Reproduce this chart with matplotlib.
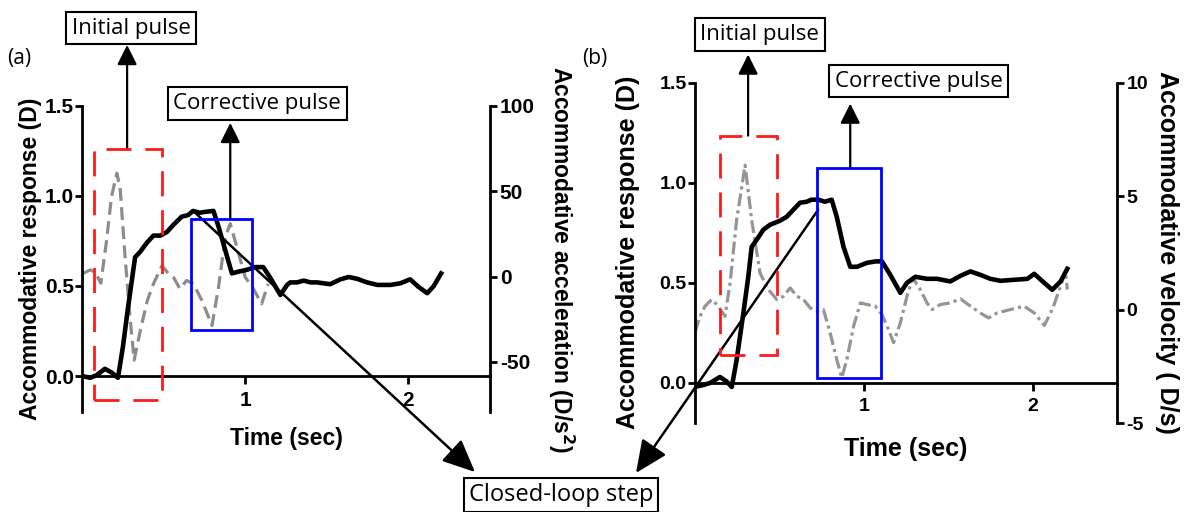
import matplotlib.pyplot as plt
from matplotlib.patches import Rectangle
from matplotlib.ticker import FormatStrFormatter

# ---- panel (a): accommodative response (D) and acceleration (D/s^2) ----
a_resp_t = [0.00, 0.05, 0.09, 0.14, 0.18, 0.22, 0.25, 0.28, 0.325, 0.356, 0.397, 0.437,
            0.48, 0.52, 0.56, 0.61, 0.65, 0.68, 0.72, 0.765, 0.805, 0.836, 0.877, 0.918,
            0.96, 1.01, 1.06, 1.11, 1.15, 1.215, 1.256, 1.276, 1.317, 1.358, 1.40, 1.44,
            1.52, 1.583, 1.634, 1.685, 1.746, 1.81, 1.89, 1.95, 2.01, 2.06, 2.115, 2.155, 2.20]
a_resp_d = [0.00, -0.01, 0.005, 0.04, 0.02, -0.01, 0.16, 0.37, 0.66, 0.69, 0.74, 0.78,
            0.78, 0.80, 0.84, 0.885, 0.894, 0.917, 0.907, 0.913, 0.917, 0.83, 0.70, 0.57,
            0.58, 0.59, 0.605, 0.605, 0.55, 0.45, 0.506, 0.52, 0.52, 0.53, 0.52, 0.52,
            0.51, 0.537, 0.55, 0.54, 0.52, 0.506, 0.506, 0.515, 0.537, 0.496, 0.46, 0.50, 0.57]
a_acc_t = [0.00, 0.05, 0.08, 0.115, 0.15, 0.18, 0.213, 0.233, 0.264, 0.294, 0.319, 0.356,
           0.40, 0.437, 0.49, 0.53, 0.56, 0.60, 0.64, 0.683, 0.734, 0.796, 0.836, 0.877,
           0.908, 0.949, 1.00, 1.05, 1.10, 1.14]
a_acc_v = [1.6, 3.9, 2.5, -3.9, 21, 46.5, 60.6, 52, 11, -24, -49, -32,
           -14, -4.3, 6.4, 1.6, -0.4, -7.2, -2.3, -4.3, -14, -28.7, -6.3, 23,
           31, 17, -0.4, -7.2, -16, -4.3]

# ---- panel (b): accommodative response (D) and velocity (D/s) ----
b_resp_t = [0.00, 0.05, 0.09, 0.148, 0.188, 0.218, 0.247, 0.287, 0.316, 0.336, 0.366, 0.405,
            0.445, 0.504, 0.544, 0.583, 0.623, 0.663, 0.69, 0.73, 0.77, 0.81, 0.84, 0.88,
            0.92, 0.96, 1.02, 1.07, 1.108, 1.157, 1.217, 1.256, 1.306, 1.375, 1.434, 1.513,
            1.573, 1.632, 1.69, 1.75, 1.81, 1.89, 1.97, 2.01, 2.06, 2.117, 2.166, 2.206]
b_resp_d = [-0.02, -0.01, 0.0, 0.03, 0.007, -0.02, 0.115, 0.35, 0.53, 0.68, 0.715, 0.765,
            0.79, 0.81, 0.83, 0.865, 0.90, 0.905, 0.915, 0.915, 0.905, 0.915, 0.83, 0.68,
            0.58, 0.58, 0.60, 0.607, 0.607, 0.54, 0.45, 0.50, 0.53, 0.52, 0.52, 0.507,
            0.535, 0.557, 0.54, 0.52, 0.51, 0.515, 0.52, 0.545, 0.507, 0.465, 0.507, 0.57]
b_vel_t = [0.00, 0.03, 0.06, 0.10, 0.138, 0.178, 0.208, 0.247, 0.297, 0.336, 0.386, 0.435,
           0.485, 0.524, 0.564, 0.604, 0.643, 0.683, 0.722, 0.761, 0.80, 0.84, 0.87, 0.90,
           0.94, 0.98, 1.02, 1.068, 1.108, 1.138, 1.177, 1.217, 1.256, 1.29, 1.335, 1.375,
           1.405, 1.454, 1.513, 1.573, 1.632, 1.69, 1.74, 1.79, 1.87, 1.95, 2.01, 2.07,
           2.117, 2.166, 2.196, 2.206]
b_vel_v = [-1.0, -0.3, 0.15, 0.44, 0.15, -0.3, 1.17, 3.95, 6.36, 3.95, 1.6, 0.88,
           0.44, 0.58, 0.95, 0.58, 0.44, 0.07, -0.07, 0.0, -1.0, -2.2, -3.0, -2.2,
           -0.73, 0.29, 0.22, 0.15, -0.22, -0.73, -1.46, -0.58, 0.58, 1.4, 0.88, 0.29,
           0.0, 0.22, 0.29, 0.47, 0.15, -0.15, -0.37, -0.15, 0.0, 0.15, -0.15, -0.7,
           0.0, 1.02, 1.68, 0.88]

plt.rcParams['font.family'] = ['Liberation Sans', 'DejaVu Sans']
plt.rcParams['font.weight'] = 'bold'
plt.rcParams['axes.labelweight'] = 'bold'
plt.rcParams['axes.unicode_minus'] = False

BOX_FONT = ['Open Sans', 'DejaVu Sans']
GRAY = '#8c8c8c'


def make_panel(rect, right_lim, right_ticks, right_label, tick_size, label_size, pads):
    ax = fig.add_axes(rect)
    ax2 = ax.twinx()
    ax.set_zorder(2)
    ax2.set_zorder(1)
    ax.patch.set_visible(False)

    ax.set_xlim(0, 2.5)
    ax.set_ylim(-0.2, 1.5)
    ax2.set_ylim(*right_lim)

    for s in ['top', 'right']:
        ax.spines[s].set_visible(False)
    for s in ['top', 'left', 'bottom']:
        ax2.spines[s].set_visible(False)
    ax.spines['bottom'].set_position(('data', 0))
    for sp in [ax.spines['left'], ax.spines['bottom'], ax2.spines['right']]:
        sp.set_linewidth(2)

    ax.set_xticks([1, 2])
    ax.set_yticks([0.0, 0.5, 1.0, 1.5])
    ax.yaxis.set_major_formatter(FormatStrFormatter('%.1f'))
    ax2.set_yticks(right_ticks)
    ax.tick_params(axis='y', length=5, width=2, pad=1, labelsize=tick_size)
    ax.tick_params(axis='x', length=6, width=2, pad=5, labelsize=tick_size)
    ax2.tick_params(axis='y', length=5, width=2, pad=2, labelsize=tick_size)

    ax.set_xlabel('Time (sec)', fontsize=label_size, labelpad=pads[0])
    ax.set_ylabel('Accommodative response (D)', fontsize=label_size, labelpad=pads[1])
    ax2.set_ylabel(right_label, fontsize=label_size, rotation=270, va='bottom',
                   labelpad=pads[2])
    return ax, ax2


def pulse_box(ax, rect_x, rect_y, color, ls, arrow_x, arrow_top, text, text_xy):
    ax.add_patch(Rectangle((rect_x[0], rect_y[0]), rect_x[1] - rect_x[0],
                           rect_y[1] - rect_y[0], fill=False, ec=color, lw=2,
                           ls=ls, clip_on=False, zorder=5))
    ax.annotate('', xy=(arrow_x, arrow_top), xytext=(arrow_x, rect_y[1]),
                arrowprops=dict(arrowstyle='-|>,head_length=1.2,head_width=0.6',
                                mutation_scale=10, lw=1.6, color='black',
                                shrinkA=0, shrinkB=0),
                annotation_clip=False)
    ax.text(text_xy[0], text_xy[1], text, ha='center', va='center', fontsize=16,
            family=BOX_FONT, weight='normal', clip_on=False,
            bbox=dict(boxstyle='square,pad=0.25', fc='white', ec='black', lw=1.5))


fig = plt.figure(figsize=(11.91, 5.12), dpi=100)

# ---- (a) ----
ax_a, ax_a2 = make_panel([0.0689, 0.1953, 0.3426, 0.5977], (-79.4, 100), [-50, 0, 50, 100],
                         'Accommodative acceleration (D/s$^2$)', 15, 16.5, (12, 2, 8))
ax_a2.plot(a_acc_t, a_acc_v, color=GRAY, lw=2.3, ls=(0, (4, 2)))
ax_a.plot(a_resp_t, a_resp_d, color='black', lw=3.3)
pulse_box(ax_a, (0.074, 0.49), (-0.133, 1.261), '#ff1a1a', (0, (9, 5)),
          0.276, 1.839, 'Initial pulse', (0.30, 1.933))
pulse_box(ax_a, (0.669, 1.043), (0.256, 0.872), '#0000ff', '-',
          0.908, 1.406, 'Corrective pulse', (1.074, 1.514))

# ---- (b) ----
ax_b, ax_b2 = make_panel([0.5835, 0.1738, 0.3543, 0.6650], (-5, 10), [-5, 0, 5, 10],
                         'Accommodative velocity ( D/s)', 14, 18, (16, 14, 5))
ax_b2.plot(b_vel_t, b_vel_v, color='#959595', lw=2.3, ls=(0, (4, 1.3, 1, 1.3)))
ax_b.plot(b_resp_t, b_resp_d, color='black', lw=3.3)
pulse_box(ax_b, (0.148, 0.487), (0.14, 1.235), '#ff1a1a', (0, (9, 5)),
          0.315, 1.64, 'Initial pulse', (0.383, 1.74))
pulse_box(ax_b, (0.724, 1.104), (0.025, 1.075), '#0000ff', '-',
          0.92, 1.395, 'Corrective pulse', (1.326, 1.5075))

# ---- closed-loop step ----
fig.text(0.471, 0.0332, 'Closed-loop step', ha='center', va='center', fontsize=17,
         family=BOX_FONT, weight='normal',
         bbox=dict(boxstyle='square,pad=0.2', fc='white', ec='black', lw=1.5))
big_head = dict(arrowstyle='-|>,head_length=1.0,head_width=0.45', mutation_scale=20,
                lw=1.8, color='black', shrinkA=0, shrinkB=0)
ax_a.annotate('', xy=(0.3988, 0.0781), xycoords='figure fraction',
              xytext=(0.681, 0.917), textcoords='data', arrowprops=big_head)
ax_b.annotate('', xy=(0.534, 0.0762), xycoords='figure fraction',
              xytext=(0.73, 0.865), textcoords='data', arrowprops=big_head)

fig.text(0.016, 0.886, '(a)', ha='center', va='center', fontsize=15,
         family=BOX_FONT, weight='normal')
fig.text(0.499, 0.886, '(b)', ha='center', va='center', fontsize=15,
         family=BOX_FONT, weight='normal')

fig.savefig('out.png', dpi=100)
